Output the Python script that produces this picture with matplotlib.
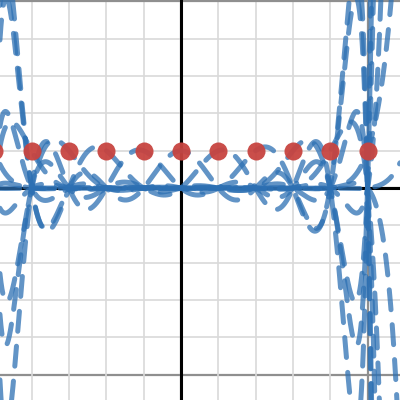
#
#  Lagrange basis polynomials on equally spaced nodes
#
import numpy as np
import matplotlib
matplotlib.use("Agg")
import matplotlib.pyplot as plt

# nodes and values (dots sit at y = 1)
nodes = [-5, -4, -3, -2, -1, 0, 1, 2, 3, 4, 5]
node_vals = [1, 1, 1, 1, 1, 1, 1, 1, 1, 1, 1]

xlo, xhi = -4.85, 5.87
ylo, yhi = -5.68, 5.04

blue = "#2d70b3"
red = "#c74440"

def basis(j, x):
    y = np.ones_like(x)
    for m, xm in enumerate(nodes):
        if m != j:
            y *= (x - xm) / (nodes[j] - xm)
    return y

fig = plt.figure(figsize=(4, 4), dpi=100)
ax = fig.add_axes([0, 0, 1, 1])
ax.set_xlim(xlo, xhi)
ax.set_ylim(ylo, yhi)
ax.axis("off")

# grid: minor every 1, major every 5
for v in range(-10, 11):
    c, w = ("#8f8f8f", 1.6) if v % 5 == 0 else ("#d9d9d9", 1.2)
    ax.axvline(v, color=c, lw=w, zorder=0)
    ax.axhline(v, color=c, lw=w, zorder=0)
ax.axvline(0, color="k", lw=2.2, zorder=1)
ax.axhline(0, color="k", lw=2.2, zorder=1)

x = np.linspace(xlo - 0.5, xhi + 0.5, 4000)
for j in range(len(nodes)):
    y = basis(j, x)
    y[np.abs(y) > 60] = np.nan
    ax.plot(x, y, color=blue, alpha=0.75, lw=3.6, dashes=(4, 3),
            dash_capstyle="round", zorder=2)

ax.plot(nodes, node_vals, "o", color=red, ms=13, alpha=0.95, zorder=3,
        markeredgewidth=0)

fig.savefig("out.png", dpi=100)
